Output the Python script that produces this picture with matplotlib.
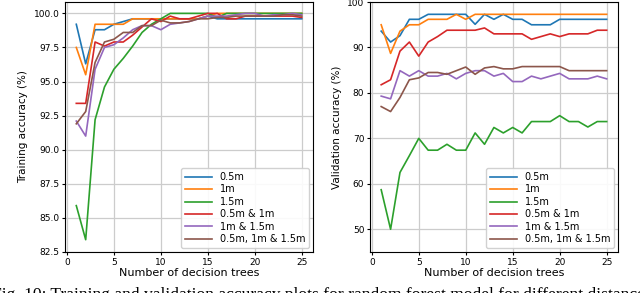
import matplotlib.pyplot as plt

trees = list(range(1, 26))
labels = ["0.5m", "1m", "1.5m", "0.5m & 1m", "1m & 1.5m", "0.5m, 1m & 1.5m"]

# training accuracy (%)
train_05 = [99.2, 96.3, 98.8, 98.8, 99.2, 99.4, 99.6, 99.6, 99.6, 99.6, 99.6, 99.6, 99.6,
            99.6, 99.8, 99.6, 99.6, 99.6, 99.6, 99.6, 99.6, 99.6, 99.6, 99.6, 99.6]
train_1 = [97.5, 95.5, 99.2, 99.2, 99.2, 99.2, 99.6, 99.6, 99.6, 99.6, 99.6, 99.6, 99.6,
           99.6, 99.8, 100.0, 100.0, 100.0, 100.0, 100.0, 100.0, 100.0, 100.0, 100.0, 100.0]
train_15 = [85.9, 83.4, 92.2, 94.6, 95.9, 96.7, 97.6, 98.6, 99.2, 99.6, 100.0, 100.0, 100.0,
            100.0, 100.0, 99.7, 100.0, 100.0, 100.0, 100.0, 100.0, 100.0, 100.0, 100.0, 100.0]
train_05_1 = [93.4, 93.4, 97.9, 97.6, 97.9, 97.9, 98.4, 99.0, 99.6, 99.4, 99.8, 99.6, 99.6,
              99.8, 100.0, 100.0, 99.6, 99.6, 99.8, 99.8, 99.8, 99.8, 99.8, 99.8, 99.7]
train_1_15 = [92.1, 91.0, 95.9, 97.5, 97.7, 98.2, 98.8, 99.1, 99.1, 98.8, 99.2, 99.3, 99.4,
              99.6, 99.8, 99.8, 99.8, 99.9, 100.0, 100.0, 99.8, 99.9, 99.9, 100.0, 99.9]
train_all = [91.9, 92.8, 96.4, 97.9, 98.1, 98.6, 98.6, 99.1, 99.1, 99.5, 99.3, 99.3, 99.4,
             99.6, 99.6, 99.7, 99.7, 99.8, 99.8, 99.8, 99.8, 99.8, 99.9, 99.9, 99.8]

# validation accuracy (%)
val_05 = [93.6, 91.2, 92.6, 96.2, 96.2, 97.3, 97.3, 97.3, 97.3, 97.3, 95.1, 97.3, 96.2,
          97.3, 96.2, 96.2, 95.0, 95.0, 95.0, 96.2, 96.2, 96.2, 96.2, 96.2, 96.2]
val_1 = [95.0, 88.7, 93.6, 95.0, 95.0, 96.2, 96.2, 96.2, 97.3, 96.2, 97.3, 97.3, 97.3,
         97.3, 97.3, 97.3, 97.3, 97.3, 97.3, 97.3, 97.3, 97.3, 97.3, 97.3, 97.3]
val_15 = [58.7, 50.0, 62.5, 66.2, 70.0, 67.4, 67.4, 68.7, 67.4, 67.4, 71.2, 68.7, 72.4,
          71.2, 72.4, 71.2, 73.7, 73.7, 73.7, 75.0, 73.7, 73.7, 72.5, 73.7, 73.7]
val_05_1 = [81.8, 82.9, 89.2, 91.2, 88.1, 91.2, 92.4, 93.8, 93.8, 93.8, 93.8, 94.3, 93.0,
            93.0, 93.0, 93.0, 91.8, 92.4, 93.0, 92.4, 93.0, 93.0, 93.0, 93.8, 93.8]
val_1_15 = [79.3, 78.7, 84.9, 83.7, 84.9, 83.7, 83.7, 84.3, 83.1, 84.3, 84.9, 84.9, 83.7,
            84.3, 82.5, 82.5, 83.7, 83.1, 83.7, 84.3, 83.1, 83.1, 83.1, 83.7, 83.1]
val_all = [77.0, 75.9, 79.0, 82.9, 83.3, 84.5, 84.5, 84.1, 84.9, 85.7, 84.1, 85.5, 85.8,
           85.3, 85.3, 85.8, 85.8, 85.8, 85.8, 85.8, 84.9, 84.9, 84.9, 84.9, 84.9]

train = [train_05, train_1, train_15, train_05_1, train_1_15, train_all]
val = [val_05, val_1, val_15, val_05_1, val_1_15, val_all]

fig = plt.figure(figsize=(6.4, 2.93), dpi=100)
ax1 = fig.add_axes([0.1016, 0.14, 0.3875, 0.853])
ax2 = fig.add_axes([0.578, 0.14, 0.3875, 0.853])

for ys, lab in zip(train, labels):
    ax1.plot(trees, ys, label=lab, lw=1.2)
for ys, lab in zip(val, labels):
    ax2.plot(trees, ys, label=lab, lw=1.2)

ax1.set_xticks([0, 5, 10, 15, 20, 25])
ax1.set_yticks([82.5, 85.0, 87.5, 90.0, 92.5, 95.0, 97.5, 100.0])
ax1.set_ylabel("Training accuracy (%)", fontsize=7.5)
ax2.set_xticks([0, 5, 10, 15, 20, 25])
ax2.set_ylim(45, 100)
ax2.set_yticks([50, 60, 70, 80, 90, 100])
ax2.set_ylabel("Validation accuracy (%)", fontsize=7.5)

for ax in (ax1, ax2):
    ax.set_xlabel("Number of decision trees", fontsize=8, labelpad=1)
    ax.tick_params(labelsize=6.5, length=2.5, pad=1.5)
    ax.grid(True, color="#cccccc", lw=0.9)
    ax.legend(loc="lower right", fontsize=7, handlelength=2.8,
              borderaxespad=0.4, labelspacing=0.25, framealpha=0.9)

# figure caption, cropped at the edges as in the source image
fig.text(-0.012, 0.022, "Fig. 10: Training and validation accuracy plots for random forest model for different distances",
         family="Liberation Serif", fontsize=12.6, va="top", ha="left")

fig.savefig("out.png", dpi=100)
